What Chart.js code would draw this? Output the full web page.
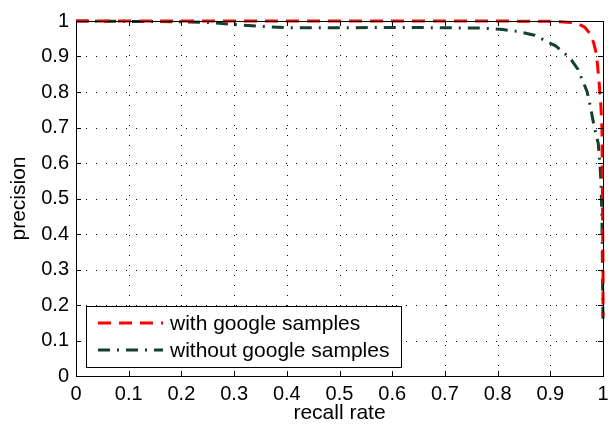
<!DOCTYPE html>
<html>
<head>
<meta charset="utf-8">
<script src="https://cdn.jsdelivr.net/npm/chart.js@4/dist/chart.umd.min.js"></script>
<style>
  html, body { margin: 0; padding: 0; background: #fff; }
  #wrap { width: 608px; height: 431px; }
</style>
</head>
<body>
<div id="wrap"><canvas id="chart" width="608" height="431"></canvas></div>
<script>
// tick values / labels
const xTickVals = [0, 0.1, 0.2, 0.3, 0.4, 0.5, 0.6, 0.7, 0.8, 0.9, 1];
const xTickLabels = ['0', '0.1', '0.2', '0.3', '0.4', '0.5', '0.6', '0.7', '0.8', '0.9', '1'];
const yTickVals = [0, 0.1, 0.2, 0.3, 0.4, 0.5, 0.6, 0.7, 0.8, 0.9, 1];
const yTickLabels = ['0', '0.1', '0.2', '0.3', '0.4', '0.5', '0.6', '0.7', '0.8', '0.9', '1'];

const seriesNames = ['with google samples', 'without google samples'];

// with google samples (red dashed)
const withRecall = [0, 0.1, 0.2, 0.3, 0.4, 0.5, 0.6, 0.7, 0.8, 0.9, 0.94, 0.955, 0.965, 0.975, 0.982, 0.987, 0.99, 0.993, 0.996, 0.998, 0.999, 1.0, 1.0];
const withPrecision = [1, 1, 1, 1, 1, 1, 1, 1, 1, 0.999, 0.996, 0.99, 0.983, 0.965, 0.94, 0.91, 0.87, 0.82, 0.76, 0.7, 0.5, 0.3, 0.17];

// without google samples (dark green dash-dot)
const withoutRecall = [0, 0.1, 0.2, 0.25, 0.3, 0.35, 0.4, 0.5, 0.6, 0.7, 0.77, 0.81, 0.84, 0.87, 0.89, 0.91, 0.925, 0.94, 0.952, 0.962, 0.97, 0.976, 0.981, 0.986, 0.991, 0.994, 0.996, 0.998, 0.999, 1.0];
const withoutPrecision = [1, 0.999, 0.998, 0.996, 0.99, 0.985, 0.981, 0.981, 0.982, 0.981, 0.98, 0.976, 0.97, 0.96, 0.945, 0.93, 0.912, 0.89, 0.865, 0.83, 0.8, 0.76, 0.72, 0.685, 0.655, 0.6, 0.55, 0.45, 0.3, 0.15];

const redColor = '#ff0000';
const greenColor = '#15402c';
const fontFam = '"Liberation Sans", Arial, Helvetica, sans-serif';

function pts(xs, ys) {
  return xs.map((x, i) => ({ x: x, y: ys[i] }));
}

// grid, box and inward ticks (matlab style)
const axesBox = {
  id: 'axesBox',
  beforeDatasetsDraw(chart) {
    const ctx = chart.ctx, a = chart.chartArea;
    const xs = chart.scales.x, ys = chart.scales.y;
    ctx.save();
    ctx.strokeStyle = '#000';
    ctx.lineWidth = 1;
    ctx.setLineDash([1, 9]);
    xTickVals.forEach(v => {
      if (v <= 0 || v >= 1) return;
      const px = Math.round(xs.getPixelForValue(v)) + 0.5;
      ctx.beginPath(); ctx.moveTo(px, a.bottom); ctx.lineTo(px, a.top); ctx.stroke();
    });
    yTickVals.forEach(v => {
      if (v <= 0 || v >= 1) return;
      const py = Math.round(ys.getPixelForValue(v)) + 0.5;
      ctx.beginPath(); ctx.moveTo(a.left, py); ctx.lineTo(a.right, py); ctx.stroke();
    });
    ctx.restore();
  },
  afterDatasetsDraw(chart) {
    const ctx = chart.ctx, a = chart.chartArea;
    const xs = chart.scales.x, ys = chart.scales.y;
    const tl = 5;
    ctx.save();
    ctx.strokeStyle = '#000';
    ctx.lineWidth = 1;
    ctx.setLineDash([]);
    ctx.strokeRect(Math.round(a.left) + 0.5, Math.round(a.top) + 0.5, Math.round(a.right - a.left), Math.round(a.bottom - a.top));
    ctx.beginPath();
    xTickVals.forEach(v => {
      const px = Math.round(xs.getPixelForValue(v)) + 0.5;
      ctx.moveTo(px, a.bottom); ctx.lineTo(px, a.bottom - tl);
      ctx.moveTo(px, a.top); ctx.lineTo(px, a.top + tl);
    });
    yTickVals.forEach(v => {
      const py = Math.round(ys.getPixelForValue(v)) + 0.5;
      ctx.moveTo(a.left, py); ctx.lineTo(a.left + tl, py);
      ctx.moveTo(a.right, py); ctx.lineTo(a.right - tl, py);
    });
    ctx.stroke();
    ctx.restore();
  },
  afterDraw(chart) {
    // legend box inside the plot, lower left
    const ctx = chart.ctx, a = chart.chartArea;
    const bx = a.left + 10, by = a.bottom - 70, bw = 315, bh = 61;
    ctx.save();
    ctx.fillStyle = '#fff';
    ctx.fillRect(bx, by, bw, bh);
    ctx.strokeStyle = '#000';
    ctx.lineWidth = 1;
    ctx.strokeRect(Math.round(bx) + 0.5, Math.round(by) + 0.5, bw, bh);
    const ds = chart.data.datasets;
    ds.forEach((d, i) => {
      const yy = by + 17 + i * 27;
      ctx.strokeStyle = d.borderColor;
      ctx.lineWidth = d.borderWidth;
      ctx.setLineDash(d.borderDash);
      ctx.beginPath();
      ctx.moveTo(bx + 12, yy); ctx.lineTo(bx + 77, yy);
      ctx.stroke();
      ctx.setLineDash([]);
      ctx.fillStyle = '#000';
      ctx.font = '21px ' + fontFam;
      ctx.textBaseline = 'middle';
      ctx.textAlign = 'left';
      ctx.fillText(d.label, bx + 84, yy + 1);
    });
    ctx.restore();
  }
};

const ctx = document.getElementById('chart').getContext('2d');
const prChart = new Chart(ctx, {
  type: 'scatter',
  data: {
    datasets: [
      {
        label: seriesNames[0],
        data: pts(withRecall, withPrecision),
        showLine: true,
        borderColor: redColor,
        backgroundColor: redColor,
        borderWidth: 3,
        borderDash: [13, 8],
        pointRadius: 0,
        tension: 0,
        clip: false
      },
      {
        label: seriesNames[1],
        data: pts(withoutRecall, withoutPrecision),
        showLine: true,
        borderColor: greenColor,
        backgroundColor: greenColor,
        borderWidth: 3,
        borderDash: [12, 7, 2, 7],
        pointRadius: 0,
        tension: 0,
        clip: false
      }
    ]
  },
  options: {
    responsive: false,
    animation: false,
    events: [],
    layout: { padding: { top: 21, right: 5, left: 0, bottom: 0 } },
    plugins: {
      legend: { display: false },
      tooltip: { enabled: false }
    },
    scales: {
      x: {
        type: 'linear',
        min: 0, max: 1,
        afterBuildTicks: s => { s.ticks = xTickVals.map(v => ({ value: v })); },
        afterFit: s => { s.height = 55; s.paddingRight = 0; s.paddingLeft = 0; },
        grid: { display: false, drawTicks: false },
        border: { display: false },
        ticks: {
          callback: (v, i) => xTickLabels[i],
          color: '#000',
          font: { family: fontFam, size: 20 },
          padding: 6,
          maxRotation: 0,
          autoSkip: false
        },
        title: {
          display: true,
          text: 'recall rate',
          color: '#000',
          font: { family: fontFam, size: 21 },
          padding: { top: 0, bottom: 5 }
        }
      },
      y: {
        type: 'linear',
        min: 0, max: 1,
        afterBuildTicks: s => { s.ticks = yTickVals.map(v => ({ value: v })); },
        afterFit: s => { s.width = 76; },
        grid: { display: false, drawTicks: false },
        border: { display: false },
        ticks: {
          callback: (v, i) => yTickLabels[i],
          color: '#000',
          font: { family: fontFam, size: 20 },
          padding: 7,
          autoSkip: false
        },
        title: {
          display: true,
          text: 'precision',
          color: '#000',
          font: { family: fontFam, size: 21 },
          padding: { top: 7, bottom: 0 }
        }
      }
    }
  },
  plugins: [axesBox]
});
</script>
</body>
</html>
